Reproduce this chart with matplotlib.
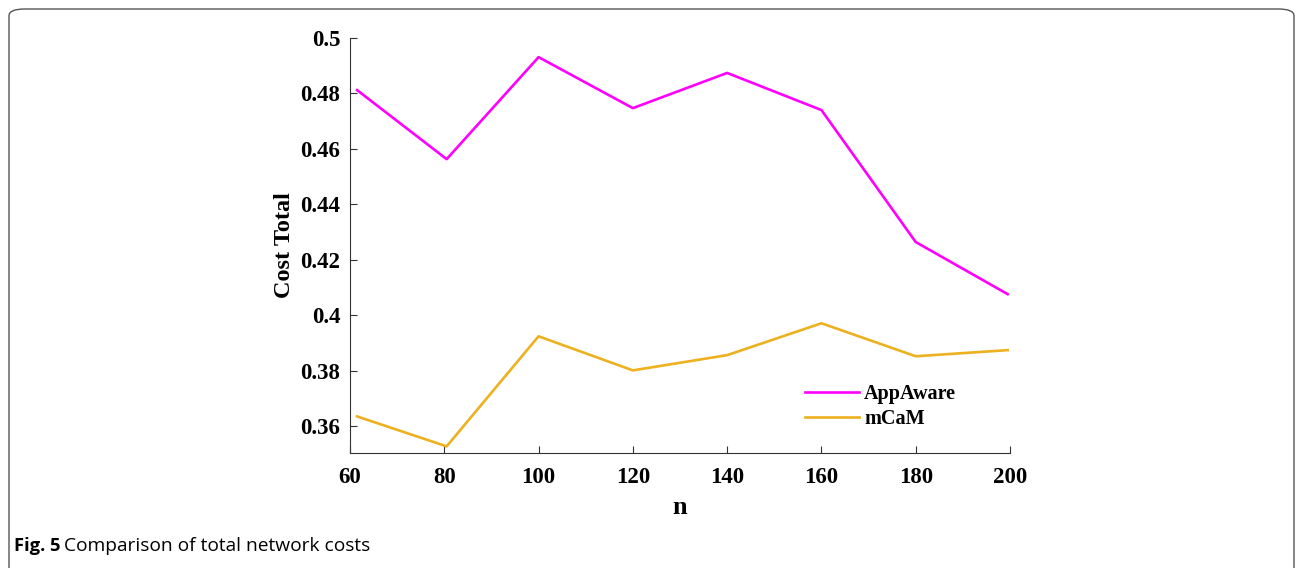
import matplotlib.pyplot as plt
from matplotlib.patches import FancyBboxPatch

# Network size n and total cost for each scheme
n_values = [61.5, 80.5, 100, 120, 140, 160, 180, 199.5]
appaware_cost = [0.4812, 0.4563, 0.4931, 0.4747, 0.4874, 0.4740, 0.4264, 0.4076]
mcam_cost = [0.3635, 0.3527, 0.3924, 0.3801, 0.3856, 0.3971, 0.3852, 0.3874]
x_ticks = [60, 80, 100, 120, 140, 160, 180, 200]
y_ticks = [0.36, 0.38, 0.40, 0.42, 0.44, 0.46, 0.48, 0.50]
y_tick_labels = ['0.36', '0.38', '0.4', '0.42', '0.44', '0.46', '0.48', '0.5']

serif = 'Liberation Serif'

fig = plt.figure(figsize=(12.95, 5.68), dpi=100)

# Rounded frame around the figure
frame = FancyBboxPatch((9 / 1295, -0.2), 1285 / 1295, (568 - 9) / 568 + 0.2,
                       boxstyle='round,pad=0,rounding_size=0.012',
                       transform=fig.transFigure, facecolor='none',
                       edgecolor='#555555', linewidth=1.0, clip_on=False)
fig.patches.append(frame)

ax = fig.add_axes([350 / 1295, (568 - 453) / 568, 660 / 1295, (453 - 38) / 568])
ax.plot(n_values, appaware_cost, color='#FF00FF', linewidth=1.9, label='AppAware')
ax.plot(n_values, mcam_cost, color='#EDB120', linewidth=1.9, label='mCaM')

ax.set_xlim(60, 200)
ax.set_ylim(0.3503, 0.5)
ax.set_xticks(x_ticks)
ax.set_xticklabels([str(v) for v in x_ticks])
ax.set_yticks(y_ticks)
ax.set_yticklabels(y_tick_labels)

for lbl in ax.get_xticklabels() + ax.get_yticklabels():
    lbl.set_fontfamily(serif)
    lbl.set_fontweight('bold')
    lbl.set_fontsize(16.5)

ax.tick_params(direction='in', length=5, width=0.8, color='#333333')
ax.tick_params(axis='x', pad=10)
ax.tick_params(axis='y', pad=7)
ax.spines['top'].set_visible(False)
ax.spines['right'].set_visible(False)
for s in ['left', 'bottom']:
    ax.spines[s].set_color('#333333')
    ax.spines[s].set_linewidth(0.8)

ax.set_xlabel('n', fontfamily=serif, fontweight='bold', fontsize=19, labelpad=6)
ax.set_ylabel('Cost Total', fontfamily=serif, fontweight='bold', fontsize=17.5, labelpad=4)

leg = ax.legend(loc='upper left', bbox_to_anchor=(0.677, 0.185), frameon=False,
                prop={'family': serif, 'weight': 'bold', 'size': 14.5},
                handlelength=2.7, handletextpad=0.25, labelspacing=0.25,
                borderaxespad=0)

fig.text(14 / 1295, 1 - 551 / 568, 'Fig. 5', fontfamily='Open Sans', fontweight='bold',
         fontsize=13.2, va='baseline')
fig.text(64 / 1295, 1 - 551 / 568, 'Comparison of total network costs', fontfamily='Open Sans',
         fontsize=13.8, va='baseline')

fig.savefig('out.png', dpi=100)
